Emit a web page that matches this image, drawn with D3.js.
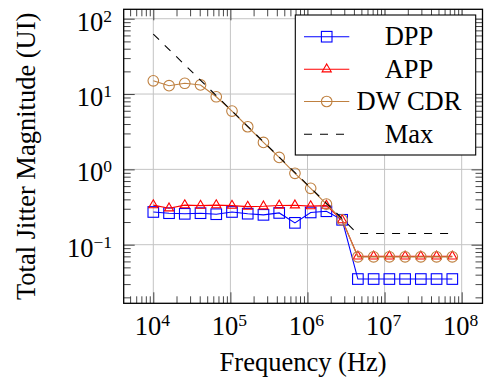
<!DOCTYPE html>
<html><head><meta charset="utf-8">
<script src="https://cdn.jsdelivr.net/npm/d3@7"></script>
<style>
body{margin:0;background:#fff;}
text{font-family:"Liberation Serif","Times New Roman",serif;fill:#000;}
</style>
</head><body>
<svg id="c" width="485" height="379"></svg>
<script>
// ---- data ----
const freq = [10000, 16000, 25600, 40960, 65536, 104858, 167772, 268435, 429497, 687195,
  1099512, 1759219, 2814750, 4503600, 7205759, 11529215, 18446744, 29514791, 47223665, 75557864];
const dpp = [0.272, 0.262, 0.257, 0.262, 0.254, 0.272, 0.258, 0.249, 0.264, 0.195,
  0.268, 0.278, 0.214, 0.035, 0.035, 0.035, 0.035, 0.035, 0.035, 0.035];
const app = [0.335, 0.305, 0.335, 0.33, 0.335, 0.33, 0.32, 0.324, 0.332, 0.334,
  0.325, 0.33, 0.212, 0.07, 0.07, 0.07, 0.07, 0.07, 0.07, 0.07];
const dwcdr = [15.0, 12.9, 13.9, 13.2, 9.2, 5.94, 3.68, 2.28, 1.44, 0.885,
  0.56, 0.346, 0.214, 0.069, 0.069, 0.069, 0.069, 0.069, 0.069, 0.069];
const maxFreq = [10000, 4430000, 75557864];
const maxVal = [62.5, 0.141, 0.141];
const xMajor = [1e4, 1e5, 1e6, 1e7, 1e8];
const xExp = ["4", "5", "6", "7", "8"];
const yMajor = [1e-1, 1e0, 1e1, 1e2];
const yExp = ["\u22121", "0", "1", "2"];
const seriesNames = ["DPP", "APP", "DW CDR", "Max"];
const xLabel = "Frequency (Hz)";
const yLabel = "Total Jitter Magnitude (UI)";

// ---- layout ----
const L = 123.7, R = 482.5, T = 9.3, B = 303.3;
const x = d3.scaleLog().domain([Math.pow(10, 3.616), Math.pow(10, 8.27)]).range([L, R]);
const y = d3.scaleLog().domain([Math.pow(10, -1.778), Math.pow(10, 2.125)]).range([B, T]);

const svg = d3.select("#c");
const MS = 5.3;
const colors = {DPP: "#0000ff", APP: "#ff0000", CDR: "#bf8040"};

function minors(scale) {
  const [a, b] = scale.domain();
  const out = [];
  for (let d = Math.floor(Math.log10(a)); d <= Math.ceil(Math.log10(b)); d++)
    for (let m = 2; m <= 9; m++) {
      const v = m * Math.pow(10, d);
      if (v >= a && v <= b) out.push(v);
    }
  return out;
}

// grid
const grid = svg.append("g").attr("stroke", "#c4c4c4").attr("stroke-width", 1);
xMajor.forEach(v => grid.append("line").attr("x1", x(v)).attr("x2", x(v)).attr("y1", T).attr("y2", B));
yMajor.forEach(v => grid.append("line").attr("x1", L).attr("x2", R).attr("y1", y(v)).attr("y2", y(v)));

// ticks via d3 axes (inside)
function addAxis(gen, tx, ty, vals, size) {
  const g = svg.append("g").attr("transform", `translate(${tx},${ty})`)
    .call(gen.tickValues(vals).tickSize(-size).tickSizeOuter(0).tickFormat(""));
  g.select(".domain").remove();
  g.selectAll("line").attr("stroke", "#333").attr("stroke-width", 0.9);
}
addAxis(d3.axisBottom(x), 0, B, xMajor, 11);
addAxis(d3.axisBottom(x), 0, B, minors(x), 7);
addAxis(d3.axisTop(x), 0, T, xMajor, 11);
addAxis(d3.axisTop(x), 0, T, minors(x), 7);
addAxis(d3.axisLeft(y), L, 0, yMajor, 11);
addAxis(d3.axisLeft(y), L, 0, minors(y), 7);
addAxis(d3.axisRight(y), R, 0, yMajor, 11);
addAxis(d3.axisRight(y), R, 0, minors(y), 7);

// tick labels
xMajor.forEach((v, i) => {
  const t = svg.append("text").attr("x", x(v) - 1).attr("y", 335).attr("text-anchor", "middle").attr("font-size", 26.5);
  t.append("tspan").text("10");
  t.append("tspan").attr("dy", -9).attr("font-size", 17.5).text(xExp[i]);
});
yMajor.forEach((v, i) => {
  const t = svg.append("text").attr("x", 112).attr("y", y(v) + 12).attr("text-anchor", "end").attr("font-size", 26.5);
  t.append("tspan").text("10");
  t.append("tspan").attr("dy", -9).attr("font-size", 17.5).text(yExp[i]);
});

// axis labels
svg.append("text").attr("x", (L + R) / 2).attr("y", 371).attr("text-anchor", "middle")
  .attr("font-size", 26.5).text(xLabel);
svg.append("text").attr("transform", `translate(34.5,${(T + B) / 2}) rotate(-90)`)
  .attr("text-anchor", "middle").attr("font-size", 26.5).text(yLabel);

// markers
function marker(g, type, cx, cy, col) {
  if (type === "square")
    g.append("rect").attr("x", cx - MS).attr("y", cy - MS).attr("width", 2 * MS).attr("height", 2 * MS)
      .attr("fill", "none").attr("stroke", col).attr("stroke-width", 1.1);
  else if (type === "tri")
    g.append("path").attr("d", `M${cx},${cy - MS}L${cx + MS * 0.866},${cy + MS / 2}L${cx - MS * 0.866},${cy + MS / 2}Z`)
      .attr("fill", "none").attr("stroke", col).attr("stroke-width", 1.1);
  else
    g.append("circle").attr("cx", cx).attr("cy", cy).attr("r", MS)
      .attr("fill", "none").attr("stroke", col).attr("stroke-width", 1.1);
}

const line = d3.line().x(d => x(d[0])).y(d => y(d[1]));
function series(vals, col, type) {
  const pts = freq.map((f, i) => [f, vals[i]]);
  const g = svg.append("g");
  g.append("path").attr("d", line(pts)).attr("fill", "none").attr("stroke", col).attr("stroke-width", 1.1);
  pts.forEach(p => marker(g, type, x(p[0]), y(p[1]), col));
}
series(dpp, colors.DPP, "square");
series(app, colors.APP, "tri");
series(dwcdr, colors.CDR, "circle");
svg.append("path").attr("d", line(maxFreq.map((f, i) => [f, maxVal[i]])))
  .attr("fill", "none").attr("stroke", "#000").attr("stroke-width", 1.1).attr("stroke-dasharray", "8,8");

// frame
svg.append("rect").attr("x", L).attr("y", T).attr("width", R - L).attr("height", B - T)
  .attr("fill", "none").attr("stroke", "#000").attr("stroke-width", 1.3);

// legend
const lg = svg.append("g");
lg.append("rect").attr("x", 295.3).attr("y", 15).attr("width", 180.4).attr("height", 140)
  .attr("fill", "#fff").attr("stroke", "#000").attr("stroke-width", 1.1);
const legCols = [colors.DPP, colors.APP, colors.CDR, "#000"];
const legTypes = ["square", "tri", "circle", null];
const rowY = [36.7, 69.2, 101.5, 134.3];
seriesNames.forEach((n, i) => {
  const ln = lg.append("line").attr("x1", 304).attr("x2", 349.3).attr("y1", rowY[i]).attr("y2", rowY[i])
    .attr("stroke", legCols[i]).attr("stroke-width", 1.1);
  if (legTypes[i]) marker(lg, legTypes[i], 326.7, rowY[i], legCols[i]);
  else ln.attr("stroke-dasharray", "8,8");
  lg.append("text").attr("x", 409).attr("y", rowY[i] + 8.5).attr("text-anchor", "middle")
    .attr("font-size", 26.5).text(n);
});
</script>
</body></html>
